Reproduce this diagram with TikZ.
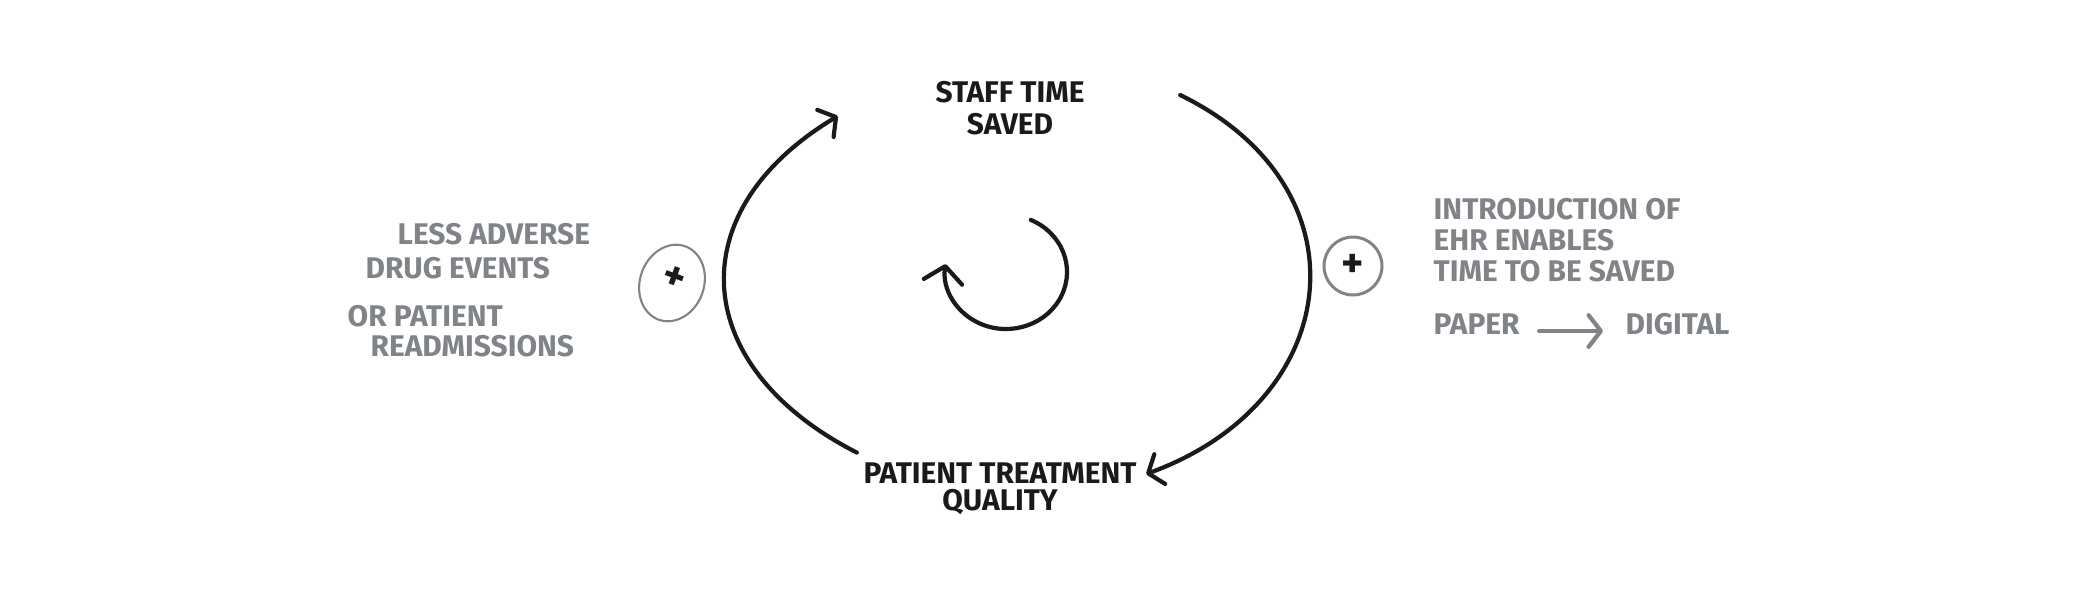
\documentclass[tikz,border=0pt]{standalone}
\usepackage{fontspec}
\setmainfont{Fira Sans}
\usepackage{xcolor}
\usetikzlibrary{arrows.meta,shapes.geometric}
\definecolor{inkblack}{RGB}{26,26,28}
\definecolor{inkgray}{RGB}{128,131,136}

\begin{document}
\begin{tikzpicture}[
    inknode/.style={inner sep=0pt, text=inkblack, align=center,
      font=\bfseries\fontsize{8.5}{9}\selectfont},
    grayline/.style={inner sep=0pt, anchor=west, text=inkgray,
      font=\bfseries\fontsize{8.5}{9}\selectfont},
    loopline/.style={draw=inkblack, line width=1.2pt, line cap=round, line join=round},
    barb/.style={-{Straight Barb[length=3.5pt,width=9pt,line cap=round,line join=round]}},
    plusmark/.style={draw=inkgray, text=inkblack, inner sep=0pt,
      font=\bfseries\fontsize{12}{12}\selectfont}
  ]
  \useasboundingbox (0,0) rectangle (20.95,5.88);
  % ---- Loop: the two variables ----
  \node[inknode] (staff) at (10.10,4.80) {STAFF TIME\\SAVED};
  \node[inknode, font=\bfseries\fontsize{8.5}{7.5}\selectfont] (quality) at (10.00,0.99)
    {PATIENT TREATMENT\\QUALITY};
  \draw[loopline, barb] ([xshift=-0.06cm,yshift=0.10cm]quality.north west)
    to[out=153, in=211, looseness=1.42]
    ([xshift=-0.97cm,yshift=-0.08cm]staff.west);
  \draw[loopline, barb] ([xshift=0.95cm,yshift=0.13cm]staff.east)
    to[out=-26, in=20, looseness=1.42]
    ([xshift=0.09cm,yshift=0.15cm]quality.east);
  % ---- reinforcing sign in the middle ----
  \draw[loopline, -{Straight Barb[length=4.5pt,width=11pt,line cap=round,line join=round]}]
    (10.06,3.16) ++(66:0.61 and 0.57)
    arc[start angle=66, end angle=-188, x radius=0.61, y radius=0.57];
  % ---- Left: polarity and note ----
  \node[plusmark, ellipse, minimum width=0.64cm, minimum height=0.78cm,
    rotate=-20, line width=0.6pt] (plusL) at (6.72,3.05) {\raisebox{0.09cm}{+}};
  \node[grayline] (adv1) at (3.97,3.54) {LESS ADVERSE};
  \node[grayline] (adv2) at (3.65,3.20) {DRUG EVENTS};
  \node[grayline] (adv3) at (3.47,2.72) {OR PATIENT};
  \node[grayline] (adv4) at (3.70,2.42) {READMISSIONS};
  % ---- Right: polarity and note ----
  \node[plusmark, circle, minimum size=0.58cm, line width=0.85pt] (plusR) at (13.53,3.22) {+};
  \node[grayline, anchor=north west, align=left, font=\bfseries\fontsize{8.5}{8.8}\selectfont] (ehr)
    at (14.33,3.90) {INTRODUCTION OF\\EHR ENABLES\\TIME TO BE SAVED};
  \node[grayline] (paper) at (14.33,2.64) {PAPER};
  \node[grayline] (digital) at (16.25,2.64) {DIGITAL};
  \draw[inkgray, line width=1.2pt, line cap=round, barb, shorten <=0.19cm, shorten >=0.22cm]
    ([yshift=-0.07cm]paper.east) -- ([yshift=-0.07cm]digital.west);
\end{tikzpicture}
\end{document}
